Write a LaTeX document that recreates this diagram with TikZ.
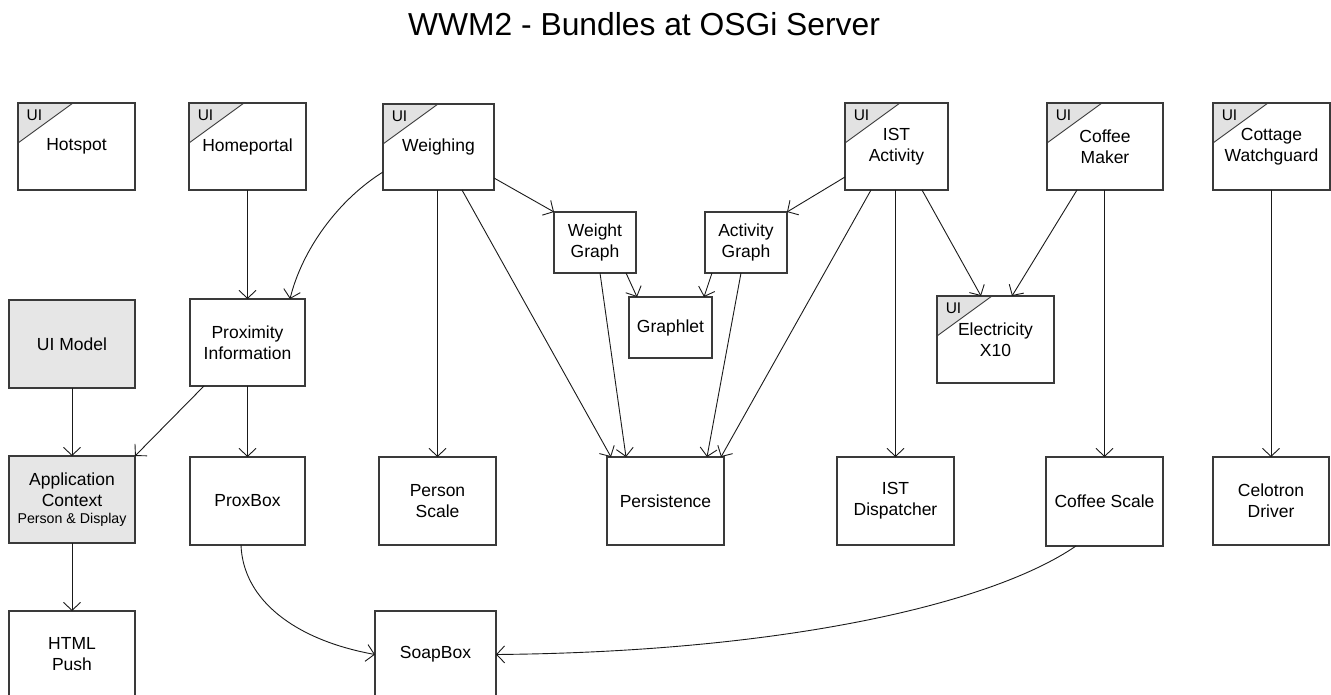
\documentclass[tikz,border=0pt]{standalone}
\usepackage{fontspec}
\setmainfont{Liberation Sans}
\usetikzlibrary{arrows.meta}
\definecolor{boxline}{HTML}{3A3A3A}
\definecolor{uigray}{HTML}{E2E2E2}
\definecolor{modelgray}{HTML}{E6E6E6}
\definecolor{arrowcol}{HTML}{1A1A1A}
\newcommand{\uitag}[1]{\node[uilabel] (#1-ui) at ([xshift=16.5pt,yshift=-12.5pt]#1.north west) {UI};}
\begin{document}
\begin{tikzpicture}[x=1pt,y=-1pt,
  box/.style={draw=boxline, line width=1.2pt, fill=white, inner sep=0pt, outer sep=0pt,
    align=center, font=\fontsize{17.5}{21}\selectfont, text=black},
  graybox/.style={box, fill=modelgray},
  uibox/.style={box, path picture={
    \fill[uigray] (path picture bounding box.north west) -- ++(55,0) -- ++(-55,40) -- cycle;
    \draw[boxline, line width=0.9pt] ([xshift=55pt]path picture bounding box.north west) -- ([yshift=-40pt]path picture bounding box.north west);}},
  uilabel/.style={inner sep=0pt, font=\fontsize{15.5}{18}\selectfont, text=black},
  arr/.style={draw=arrowcol, line width=0.9pt, -{Straight Barb[length=8pt,width=17pt,line width=0.9pt]}},
  titlestyle/.style={inner sep=0pt, font=\fontsize{31.8}{36}\selectfont, text=black}
]
\useasboundingbox (0,0) rectangle (1331,695);

\node[titlestyle] (title) at (644,24) {WWM2 - Bundles at OSGi Server};

% top row
\node[uibox, minimum width=117pt, minimum height=87pt] (hotspot) at (76.5,146.5) {Hotspot};
\node[uibox, minimum width=117pt, minimum height=87pt] (homeportal) at (247.5,146.5) {Homeportal};
\node[uibox, minimum width=111pt, minimum height=86pt] (weighing) at (438.5,147) {Weighing};
\node[uibox, minimum width=103pt, minimum height=87pt] (istact) at (896.5,146.5) {IST\\Activity};
\node[uibox, minimum width=116pt, minimum height=87pt] (coffeemaker) at (1105,146.5) {Coffee\\Maker};
\node[uibox, minimum width=117pt, minimum height=87pt] (cottage) at (1271.5,146.5) {Cottage\\Watchguard};

% middle
\node[box, minimum width=82pt, minimum height=61pt] (weightgraph) at (595,242.5) {Weight\\Graph};
\node[box, minimum width=82pt, minimum height=61pt] (activitygraph) at (746,242.5) {Activity\\Graph};
\node[box, minimum width=83pt, minimum height=61pt] (graphlet) at (670.5,327.5) {Graphlet};
\node[uibox, minimum width=117pt, minimum height=87pt] (electricity) at (995.5,339.5) {Electricity\\X10};
\node[graybox, minimum width=126pt, minimum height=88pt] (uimodel) at (72,344) {UI Model};
\node[box, minimum width=115pt, minimum height=87pt] (prox) at (247.5,342.5) {Proximity\\Information};

% lower row
\node[graybox, minimum width=126pt, minimum height=87pt] (appctx) at (72,499.5)
  {Application\\Context\\[-4pt]{\fontsize{14.2}{17}\selectfont Person \& Display}};
\node[box, minimum width=115pt, minimum height=88pt] (proxbox) at (247.5,501) {ProxBox};
\node[box, minimum width=117pt, minimum height=88pt] (personscale) at (437.5,501) {Person\\Scale};
\node[box, minimum width=117pt, minimum height=88pt] (persistence) at (665.5,501) {Persistence};
\node[box, minimum width=117pt, minimum height=88pt] (istdisp) at (895.5,501) {IST\\Dispatcher};
\node[box, minimum width=117pt, minimum height=89pt] (coffeescale) at (1104.5,501.5) {Coffee Scale};
\node[box, minimum width=116pt, minimum height=88pt] (celotron) at (1271,501) {Celotron\\Driver};

% bottom
\node[box, minimum width=126pt, minimum height=87pt] (htmlpush) at (72,654.5) {HTML\\Push};
\node[box, minimum width=121pt, minimum height=87pt] (soapbox) at (435.5,654.5) {SoapBox};

% UI tags
\uitag{hotspot}
\uitag{homeportal}
\uitag{weighing}
\uitag{istact}
\uitag{coffeemaker}
\uitag{cottage}
\uitag{electricity}

% connectors
\draw[arr] (homeportal) -- (prox);
\draw[arr] ([yshift=-25pt]weighing.west) .. controls (338,200) and (302,250) .. ([xshift=42.5pt]prox.north);
\draw[arr] ([yshift=-31pt]weighing.east) -- (weightgraph.north west);
\draw[arr] (personscale.north |- weighing.south) -- (personscale.north);
\draw[arr] ([xshift=23.5pt]weighing.south) -- ([xshift=-54.5pt]persistence.north);
\draw[arr] ([xshift=5pt]weightgraph.south) -- ([xshift=-39.5pt]persistence.north);
\draw[arr] ([xshift=-5pt]activitygraph.south) -- ([xshift=41.5pt]persistence.north);
\draw[arr] ([xshift=-25.5pt]istact.south) -- ([xshift=55.5pt]persistence.north);
\draw[arr] ([xshift=31pt]weightgraph.south) -- ([xshift=-33.5pt]graphlet.north);
\draw[arr] ([xshift=-34pt]activitygraph.south) -- ([xshift=33.5pt]graphlet.north);
\draw[arr] ([yshift=-30.5pt]istact.west) -- (activitygraph.north east);
\draw[arr] (istdisp.north |- istact.south) -- (istdisp.north);
\draw[arr] ([xshift=25.5pt]istact.south) -- ([xshift=-14.5pt]electricity.north);
\draw[arr] ([xshift=-28pt]coffeemaker.south) -- ([xshift=16.5pt]electricity.north);
\draw[arr] (coffeescale.north |- coffeemaker.south) -- (coffeescale.north);
\draw[arr] (celotron.north |- cottage.south) -- (celotron.north);
\draw[arr] (uimodel) -- (appctx);
\draw[arr] ([xshift=-43.5pt]prox.south) -- (appctx.north east);
\draw[arr] (prox) -- (proxbox);
\draw[arr] (appctx) -- (htmlpush);
\draw[arr] ([xshift=-6.5pt]proxbox.south) .. controls (243,600) and (295,640) .. (soapbox.west);
\draw[arr] ([xshift=-28.5pt]coffeescale.south) .. controls (990,605) and (780,652) .. (soapbox.east);
\end{tikzpicture}
\end{document}
